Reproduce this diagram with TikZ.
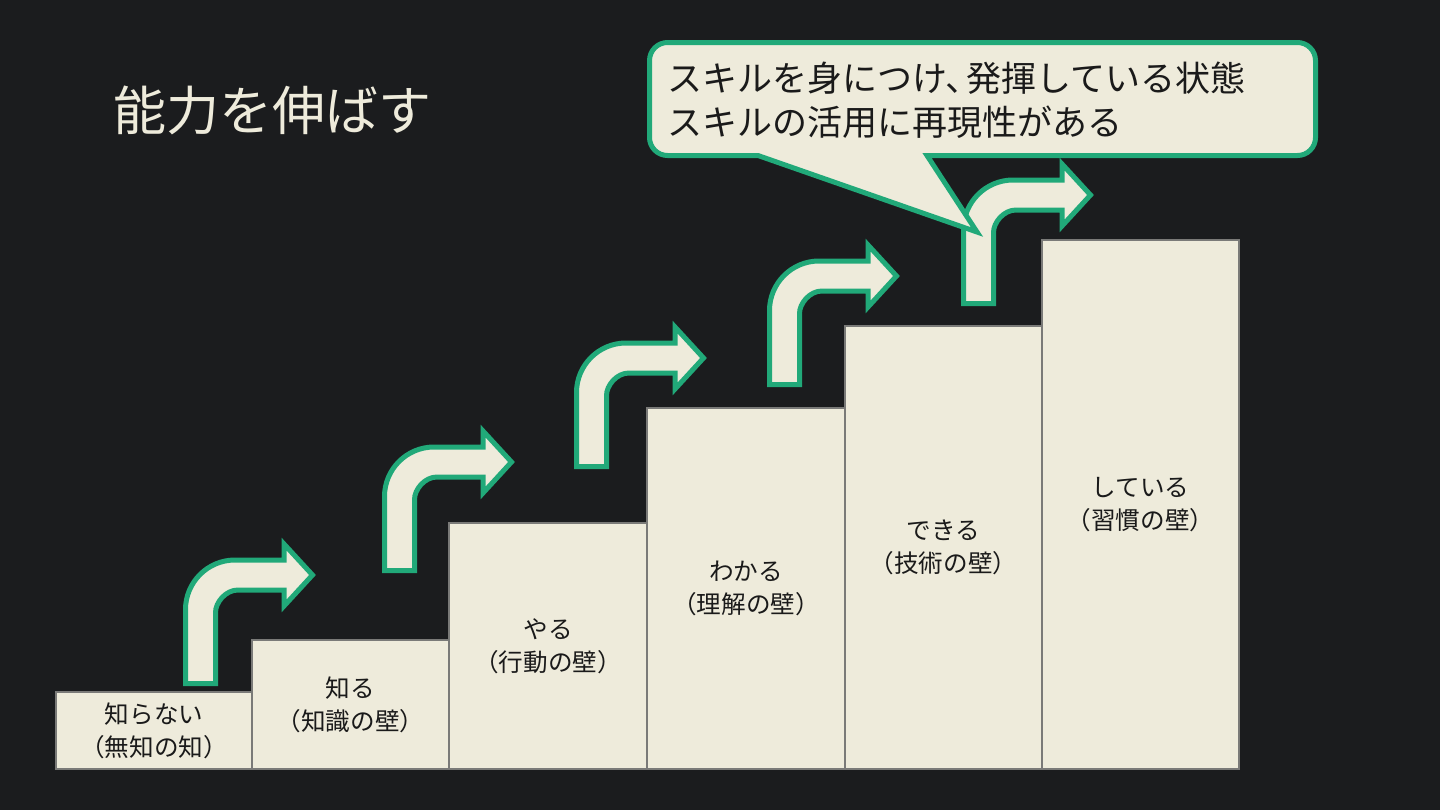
\documentclass[tikz,border=0pt]{standalone}
\usepackage{fontspec}
\setmainfont{Noto Sans CJK JP}
\newfontfamily\jpfont{Noto Sans CJK JP}
\definecolor{bgc}{HTML}{1B1C1E}
\definecolor{cream}{HTML}{EEEBDB}
\definecolor{grn}{HTML}{21A979}
\definecolor{barline}{HTML}{7A7A78}
\definecolor{ink}{HTML}{1A1A1A}
\newcommand\bentarrow[2]{%
  \begin{scope}[shift={(#1,#2)}]
    \draw[bentshape] (2.5,-2.5) -- (2.5,-76.5)
      .. controls (2.5,-103.8) and (24.7,-126) .. (52,-126)
      -- (101,-126) -- (101,-142) -- (129.5,-111) -- (101,-80) -- (101,-96)
      -- (55,-96) .. controls (42.6,-96) and (32.5,-83.6) .. (32.5,-73.5)
      -- (32.5,-2.5) -- cycle;
  \end{scope}}
\begin{document}
\begin{tikzpicture}[x=0.5pt,y=-0.5pt,
  bar/.style={draw=barline, line width=1pt, fill=cream, inner sep=0pt, outer sep=0pt,
    text=ink, align=center, font=\jpfont\fontsize{12.3pt}{16.5pt}\selectfont},
  bentshape/.style={draw=grn, line width=2.5pt, fill=cream, line join=miter},
  callout/.style={draw=grn, line width=2.5pt, fill=cream, line join=miter},
  calltext/.style={text=ink, inner sep=0pt, font=\jpfont\fontsize{17.5pt}{22pt}\selectfont},
  titletext/.style={text=cream, inner sep=0pt, font=\jpfont\fontsize{26.5pt}{30pt}\selectfont}]
\useasboundingbox (0,0) rectangle (1440,810);
\fill[bgc] (0,0) rectangle (1440,810);
% bars
\node[bar, minimum width=98.5pt, minimum height=38.5pt] (b1) at (154,730.5) {知らない\\（無知の知）};
\node[bar, minimum width=98.5pt, minimum height=64.5pt] (b2) at (350.5,704.5) {知る\\（知識の壁）};
\node[bar, minimum width=99pt, minimum height=123pt] (b3) at (548,646) {やる\\（行動の壁）};
\node[bar, minimum width=99pt, minimum height=180.5pt] (b4) at (746,588.5) {わかる\\（理解の壁）};
\node[bar, minimum width=98.5pt, minimum height=221.5pt] (b5) at (943.5,547.5) {できる\\（技術の壁）};
\node[bar, minimum width=98.5pt, minimum height=264.5pt] (b6) at (1140.5,504.5) {している\\（習慣の壁）};
% arrows
\bentarrow{183}{686}
\bentarrow{382}{573}
\bentarrow{574}{469}
\bentarrow{767}{387}
\bentarrow{961}{306}
% callout
\draw[callout] (758,155.5) -- (977,232) -- (927,155.5) -- (1297.5,155.5)
  .. controls (1307.4,155.5) and (1315.5,147.4) .. (1315.5,137.5) -- (1315.5,60.5)
  .. controls (1315.5,50.6) and (1307.4,42.5) .. (1297.5,42.5) -- (667.5,42.5)
  .. controls (657.6,42.5) and (649.5,50.6) .. (649.5,60.5) -- (649.5,137.5)
  .. controls (649.5,147.4) and (657.6,155.5) .. (667.5,155.5) -- cycle;
\node[calltext, anchor=west] (c1) at (667,78) {スキルを身につけ、\kern-7pt 発揮している状態};
\node[calltext, anchor=west] (c2) at (667,122) {スキルの活用に再現性がある};
% title
\node[titletext] (title) at (272,110) {能力を伸ばす};
\end{tikzpicture}
\end{document}
